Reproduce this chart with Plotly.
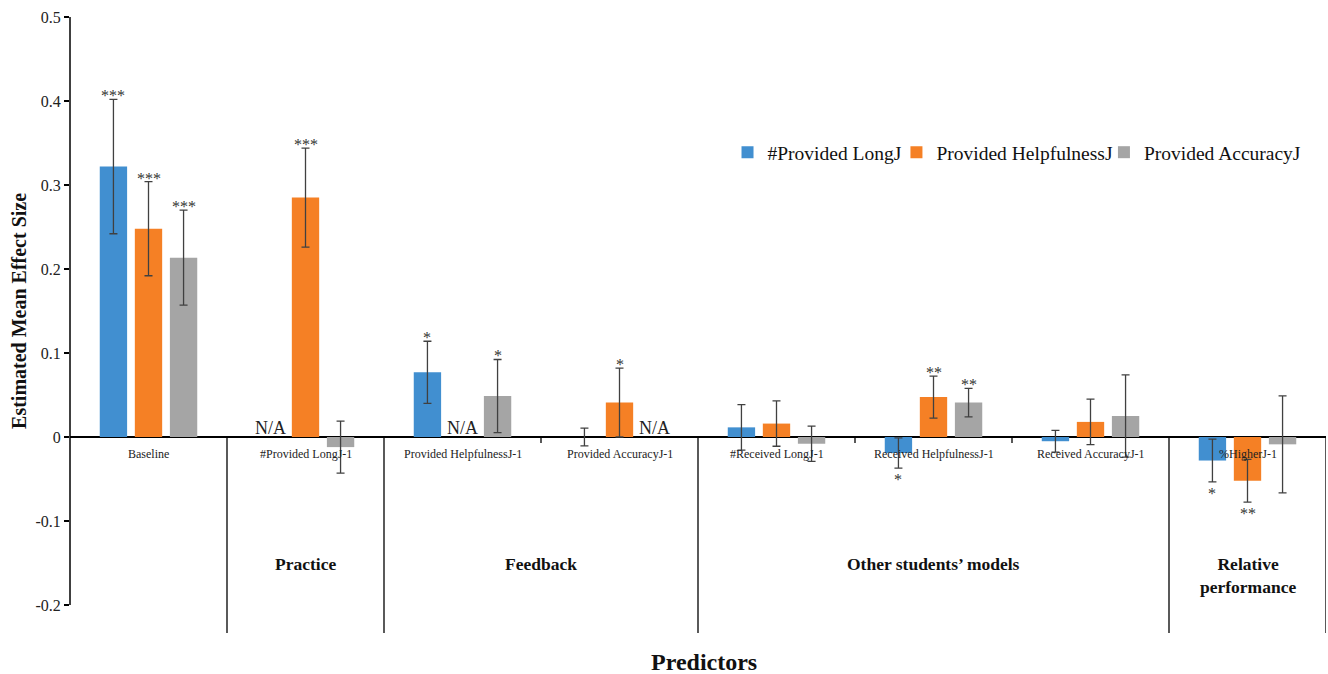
import plotly.graph_objects as go

# ---------------- data ----------------
categories = ["Baseline", "#Provided LongJ-1", "Provided HelpfulnessJ-1", "Provided AccuracyJ-1",
              "#Received LongJ-1", "Received HelpfulnessJ-1", "Received AccuracyJ-1", "%HigherJ-1"]

series_names = ["#Provided LongJ", "Provided HelpfulnessJ", "Provided AccuracyJ"]

long_vals = [0.322, None, 0.077, 0.0, 0.0115, -0.019, -0.005, -0.028]
long_err = [0.080, None, 0.037, 0.0105, 0.027, 0.018, 0.013, 0.0255]
long_sig = ["***", "", "*", "", "", "*", "", "*"]

help_vals = [0.248, 0.285, None, 0.041, 0.016, 0.0475, 0.018, -0.052]
help_err = [0.056, 0.059, None, 0.041, 0.027, 0.025, 0.027, 0.0255]
help_sig = ["***", "***", "", "*", "", "**", "", "**"]

acc_vals = [0.2135, -0.012, 0.0488, None, -0.008, 0.041, 0.025, -0.0087]
acc_err = [0.0565, 0.031, 0.0435, None, 0.021, 0.017, 0.049, 0.0577]
acc_sig = ["***", "", "*", "", "", "**", "", ""]

colors = ["#418FD0", "#F58025", "#A5A5A5"]

ytick_vals = [-0.2, -0.1, 0, 0.1, 0.2, 0.3, 0.4, 0.5]
ytick_text = ["-0.2", "-0.1", "0", "0.1", "0.2", "0.3", "0.4", "0.5"]

group_names = ["Practice", "Feedback", "Other students’ models", "Relative<br>performance"]
group_first = [1, 2, 4, 7]   # first category index in group
group_last = [1, 3, 6, 7]    # last category index in group
long_separators = [0.5, 1.5, 3.5, 6.5, 7.5]
short_separators = [2.5, 4.5, 5.5]

legend_x = [0.5235, 0.6580, 0.8232]   # left edge of each legend entry (paper)

y_min, y_max = -0.2333, 0.5
bargap, bargroupgap = 0.33, 0.22

SERIF = '"Liberation Serif", "Times New Roman", serif'

# ---------------- figure ----------------
fig = go.Figure()
all_vals = [long_vals, help_vals, acc_vals]
all_err = [long_err, help_err, acc_err]
all_sig = [long_sig, help_sig, acc_sig]
legend_ids = ["legend", "legend2", "legend3"]

for name, vals, errs, col, lg in zip(series_names, all_vals, all_err, colors, legend_ids):
    fig.add_trace(go.Bar(
        x=categories, y=vals, name=name, legend=lg,
        marker=dict(color=col, line=dict(width=0)),
        error_y=dict(type="data", array=errs, visible=True,
                     color="#404040", thickness=1.3, width=4),
    ))

slot = (1 - bargap) / 3
annotations = []
for s, (vals, errs, sigs) in enumerate(zip(all_vals, all_err, all_sig)):
    off = (s - 1) * slot
    for i, (v, e, sg) in enumerate(zip(vals, errs, sigs)):
        xpos = i + off
        if v is None:
            annotations.append(dict(x=xpos, y=0, xref="x", yref="y", text="N/A",
                                    showarrow=False, yanchor="bottom", yshift=-3,
                                    font=dict(family=SERIF, size=18, color="#222")))
            continue
        if sg:
            if v >= 0:
                annotations.append(dict(x=xpos, y=v + e, xref="x", yref="y", text=sg,
                                        showarrow=False, yanchor="bottom", yshift=-7,
                                        font=dict(family=SERIF, size=16, color="#333")))
            else:
                annotations.append(dict(x=xpos, y=v - e, xref="x", yref="y", text=sg,
                                        showarrow=False, yanchor="top", yshift=-1,
                                        font=dict(family=SERIF, size=16, color="#333")))

# category labels under the zero line
for i, c in enumerate(categories):
    annotations.append(dict(x=i, y=0, xref="x", yref="y", text=c, showarrow=False,
                            yanchor="top", yshift=-8,
                            font=dict(family=SERIF, size=12, color="#222")))

# group labels
for g, a, b in zip(group_names, group_first, group_last):
    annotations.append(dict(x=(a + b) / 2, y=0.132, xref="x", yref="paper", text="<b>" + g + "</b>",
                            showarrow=False, yanchor="top",
                            font=dict(family=SERIF, size=17.5, color="#111")))

# axis titles
annotations.append(dict(x=0.505, y=-0.047, xref="paper", yref="paper", text="<b>Predictors</b>",
                        showarrow=False, yanchor="middle",
                        font=dict(family=SERIF, size=24, color="#111")))
annotations.append(dict(x=-0.0405, y=0.523, xref="paper", yref="paper",
                        text="<b>Estimated Mean Effect Size</b>", textangle=-90,
                        showarrow=False, xanchor="center", yanchor="middle",
                        font=dict(family=SERIF, size=20, color="#111")))

shapes = []
# y axis line from -0.2 to 0.5
shapes.append(dict(type="line", xref="paper", yref="y", x0=0, x1=0, y0=ytick_vals[0], y1=ytick_vals[-1],
                   line=dict(color="black", width=1.5)))
for xs in long_separators:
    shapes.append(dict(type="line", xref="x", yref="y", x0=xs, x1=xs, y0=0, y1=y_min,
                       line=dict(color="black", width=1.3)))
for xs in short_separators:
    shapes.append(dict(type="line", xref="x", yref="y", x0=xs, x1=xs, y0=0, y1=-0.007,
                       line=dict(color="black", width=1.3)))

legend_common = dict(orientation="h", xanchor="left", y=0.78, yanchor="middle",
                     font=dict(family=SERIF, size=19.5, color="#111"), itemwidth=30,
                     bgcolor="rgba(0,0,0,0)")

fig.update_layout(
    width=1328, height=674,
    margin=dict(l=70, r=2, t=17, b=41),
    paper_bgcolor="white", plot_bgcolor="white",
    barmode="group", bargap=bargap, bargroupgap=bargroupgap,
    font=dict(family=SERIF, color="#222"),
    showlegend=True,
    legend=dict(x=legend_x[0], **legend_common),
    legend2=dict(x=legend_x[1], **legend_common),
    legend3=dict(x=legend_x[2], **legend_common),
    xaxis=dict(range=[-0.5, 7.5], showticklabels=False, showline=False, ticks="",
               showgrid=False, zeroline=False, fixedrange=True),
    yaxis=dict(range=[y_min, y_max], tickvals=ytick_vals, ticktext=ytick_text,
               ticks="outside", ticklen=5, tickwidth=1.5, tickcolor="black",
               tickfont=dict(family=SERIF, size=16, color="#222"),
               showline=False, showgrid=False, zeroline=True, zerolinecolor="black",
               zerolinewidth=1.5),
    annotations=annotations,
    shapes=shapes,
)

fig.write_html("out.html")
